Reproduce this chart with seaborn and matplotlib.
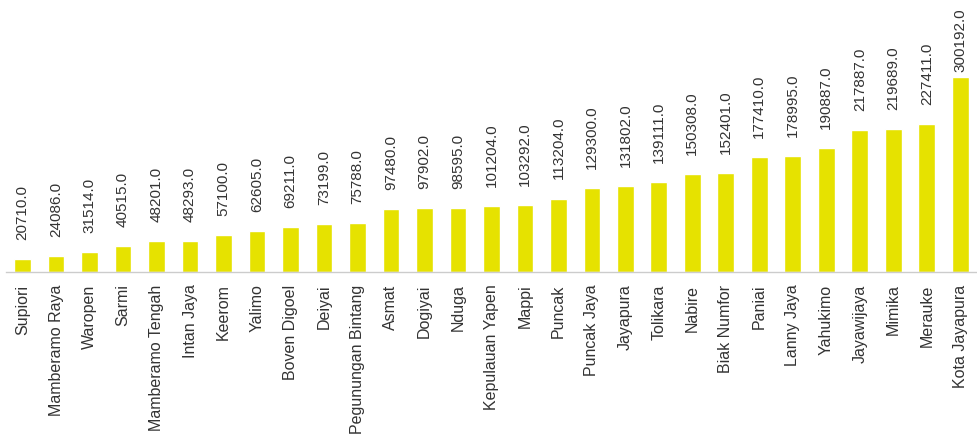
import matplotlib
matplotlib.use("Agg")
import matplotlib.pyplot as plt
import seaborn as sns
import pandas as pd

regencies = ["Supiori", "Mamberamo Raya", "Waropen", "Sarmi", "Mamberamo Tengah",
             "Intan Jaya", "Keerom", "Yalimo", "Boven Digoel", "Deiyai",
             "Pegunungan Bintang", "Asmat", "Dogiyai", "Nduga", "Kepulauan Yapen",
             "Mappi", "Puncak", "Puncak Jaya", "Jayapura", "Tolikara", "Nabire",
             "Biak Numfor", "Paniai", "Lanny Jaya", "Yahukimo", "Jayawijaya",
             "Mimika", "Merauke", "Kota Jayapura"]
values = [20710.0, 24086.0, 31514.0, 40515.0, 48201.0, 48293.0, 57100.0, 62605.0,
          69211.0, 73199.0, 75788.0, 97480.0, 97902.0, 98595.0, 101204.0, 103292.0,
          113204.0, 129300.0, 131802.0, 139111.0, 150308.0, 152401.0, 177410.0,
          178995.0, 190887.0, 217887.0, 219689.0, 227411.0, 300192.0]

df = pd.DataFrame({"regency": regencies, "value": values})

sns.set_style("white")
plt.rcParams['font.family'] = ['Liberation Sans', 'DejaVu Sans']

fig = plt.figure(figsize=(9.77, 4.46), dpi=100)
ax = fig.add_axes([0.006, 0.39, 0.994, 0.61])
sns.barplot(data=df, x="regency", y="value", color="#E6E200", saturation=1,
            width=0.5, ax=ax)
ymax = 418700
ax.set_ylim(0, ymax)
ax.set_xlim(-0.5, len(regencies) - 0.5)

# labels sit above bars, but are pushed down when they would leave the plot
label_cap = ymax * 0.735
for i, v in enumerate(values):
    y = min(v + ymax * 0.07, label_cap)
    ax.text(i, y, f"{v:.1f}", rotation=90, ha="center", va="bottom",
            fontsize=11, color="#333333")

ax.set_xlabel("")
ax.set_ylabel("")
ax.set_yticks([])
ax.tick_params(axis="x", length=0, pad=9, labelsize=11.5, labelcolor="#333333")
plt.setp(ax.get_xticklabels(), rotation=90, ha="center", va="top")
for s in ["top", "right", "left"]:
    ax.spines[s].set_visible(False)
ax.spines["bottom"].set_color("#cccccc")
ax.spines["bottom"].set_linewidth(1)

fig.savefig("out.png", dpi=100)
